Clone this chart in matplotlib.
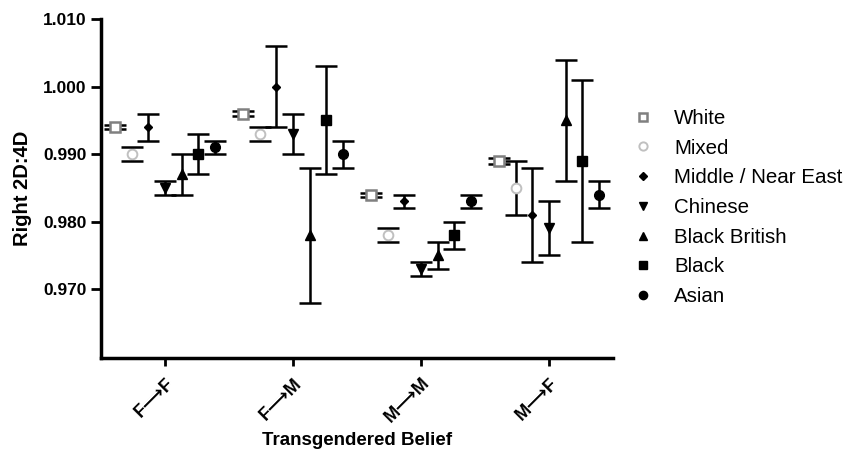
import matplotlib
matplotlib.use('Agg')
import matplotlib.pyplot as plt
from matplotlib.lines import Line2D
import numpy as np

plt.rcParams['font.family'] = ['Liberation Sans', 'DejaVu Sans']

categories = ['F⟶F', 'F⟶M', 'M⟶M', 'M⟶F']
groups = ['White', 'Mixed', 'Middle / Near East', 'Chinese', 'Black British', 'Black', 'Asian']

white = [0.994, 0.996, 0.984, 0.989]
white_err = [0.0003, 0.0004, 0.0003, 0.0004]
mixed = [0.990, 0.993, 0.978, 0.985]
mixed_err = [0.001, 0.001, 0.001, 0.004]
middle = [0.994, 1.000, 0.983, 0.981]
middle_err = [0.002, 0.006, 0.001, 0.007]
chinese = [0.985, 0.993, 0.973, 0.979]
chinese_err = [0.001, 0.003, 0.001, 0.004]
black_british = [0.987, 0.978, 0.975, 0.995]
black_british_err = [0.003, 0.010, 0.002, 0.009]
black = [0.990, 0.995, 0.978, 0.989]
black_err = [0.003, 0.008, 0.002, 0.012]
asian = [0.991, 0.990, 0.983, 0.984]
asian_err = [0.001, 0.002, 0.001, 0.002]

series = [white, mixed, middle, chinese, black_british, black, asian]
errors = [white_err, mixed_err, middle_err, chinese_err, black_british_err, black_err, asian_err]

styles = [
    dict(marker='s', mfc='white', mec='#808080', ms=7.5, mew=1.8),
    dict(marker='o', mfc='white', mec='#c0c0c0', ms=7, mew=1.4),
    dict(marker='D', mfc='black', mec='black', ms=4.5, mew=1),
    dict(marker='v', mfc='black', mec='black', ms=7, mew=1),
    dict(marker='^', mfc='black', mec='black', ms=7, mew=1),
    dict(marker='s', mfc='black', mec='black', ms=6.5, mew=1),
    dict(marker='o', mfc='black', mec='black', ms=7, mew=1),
]

fig = plt.figure(figsize=(8.59, 4.5), dpi=100)
ax = fig.add_axes([101/859, 1-358/450, (613-101)/859, (358-19)/450])

x = np.arange(len(categories))
spacing = 0.13
for i, (vals, errs, st) in enumerate(zip(series, errors, styles)):
    xs = x + (i - 3) * spacing
    ax.errorbar(xs, vals, yerr=errs, fmt='none', ecolor='black', elinewidth=1.8,
                capsize=8, capthick=1.8, zorder=2)
    ax.plot(xs, vals, linestyle='none', marker=st['marker'], markerfacecolor=st['mfc'],
            markeredgecolor=st['mec'], markersize=st['ms'], markeredgewidth=st['mew'], zorder=3)

ax.set_xlim(-0.5, 3.5)
ax.set_ylim(0.9598, 1.010)
ax.set_yticks([0.970, 0.980, 0.990, 1.000, 1.010])
ax.set_yticklabels(['0.970', '0.980', '0.990', '1.000', '1.010'], fontweight='bold', fontsize=12.5)
ax.set_xticks(x)
ax.set_xticklabels(categories, rotation=45, ha='right', rotation_mode='anchor',
                   fontweight='bold', fontsize=13)

for s in ['top', 'right']:
    ax.spines[s].set_visible(False)
for s in ['left', 'bottom']:
    ax.spines[s].set_linewidth(2.5)
ax.tick_params(axis='both', direction='out', width=2, length=7, color='black')
ax.tick_params(axis='x', length=6, pad=6)

ax.set_ylabel('Right 2D:4D', fontweight='bold', fontsize=14.5, labelpad=8)
ax.set_xlabel('Transgendered Belief', fontweight='bold', fontsize=13.5, labelpad=4)

handles = [Line2D([], [], linestyle='none', marker=st['marker'], markerfacecolor=st['mfc'],
                  markeredgecolor=st['mec'], markersize=st['ms'] * 0.85, markeredgewidth=st['mew'])
           for st in styles]
fig.legend(handles, groups, loc='upper left', bbox_to_anchor=(633/859, 1-109/450),
           frameon=False, fontsize=14.8, handlelength=1.0, handletextpad=1.0,
           labelspacing=0.52, borderpad=0, borderaxespad=0)

fig.savefig('out.png', dpi=100)
